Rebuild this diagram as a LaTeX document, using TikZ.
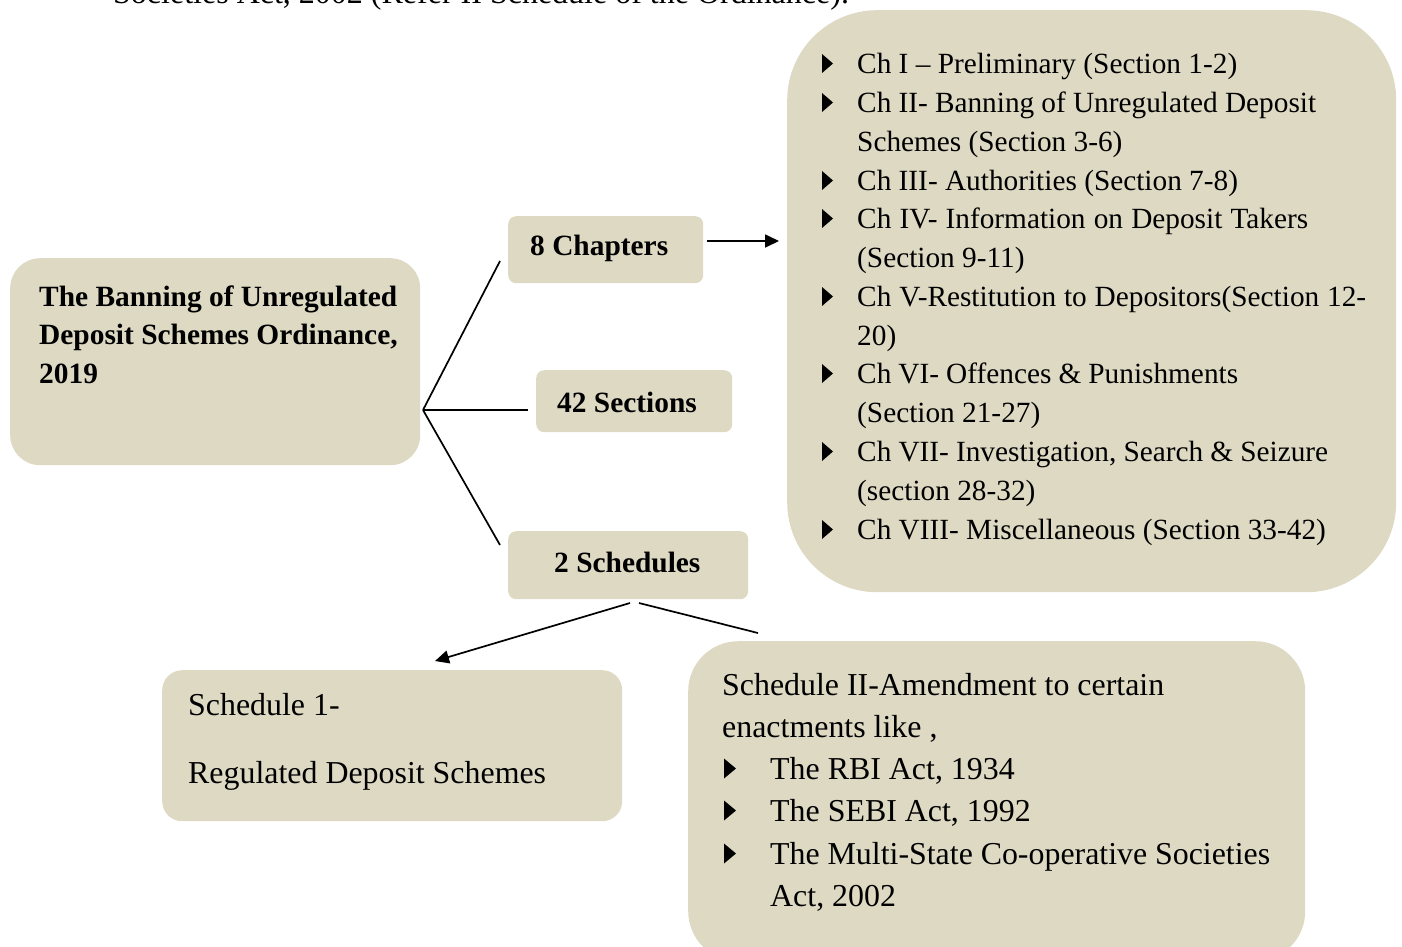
\documentclass[tikz,border=0pt]{standalone}
\usepackage{fontspec}
\setmainfont{Liberation Serif}
\usetikzlibrary{arrows.meta}
\definecolor{boxfill}{HTML}{DDD9C3}
\newcommand\jline[2]{\makebox[#1pt][s]{#2}}
\tikzset{
  box/.style={fill=boxfill, draw=none, inner sep=0pt, anchor=north west},
  txt/.style={anchor=base west, inner sep=0pt, font=\fontsize{29.3}{38.8}\selectfont},
  btxt/.style={anchor=base west, inner sep=0pt, font=\fontsize{29.4}{38.8}\selectfont\bfseries},
  ltxt/.style={anchor=base west, inner sep=0pt, font=\fontsize{31.9}{42}\selectfont},
  conn/.style={line width=1.7pt},
  arr/.style={conn, -{Triangle[length=14pt,width=13pt]}},
}
\begin{document}
\begin{tikzpicture}[x=1pt,y=-1pt]
\path[use as bounding box] (0,0) rectangle (1402,946);
\clip (0,0) rectangle (1402,946);

% partially visible text at top
\node[anchor=base west, inner sep=0pt, font=\fontsize{32}{38}\selectfont] (toptext) at (113,3) {Societies Act, 2002 (Refer II Schedule of the Ordinance).};

% boxes
\node[box, rounded corners=30pt, minimum width=410pt, minimum height=207pt] (main) at (10,258) {};
\node[box, rounded corners=8pt, minimum width=195pt, minimum height=67pt] (chap) at (508,216) {};
\node[box, rounded corners=8pt, minimum width=196pt, minimum height=62pt] (sect) at (536,370) {};
\node[box, rounded corners=8pt, minimum width=240pt, minimum height=68pt] (sched) at (508,531) {};
\node[box, rounded corners=90pt, minimum width=609pt, minimum height=582pt] (chlist) at (787,10) {};
\node[box, rounded corners=20pt, minimum width=460pt, minimum height=151pt] (s1) at (162,670) {};
\node[box, rounded corners=50pt, minimum width=617pt, minimum height=320pt] (s2) at (688,641) {};

% main box text
\node[btxt] (m1) at (39,306) {The Banning of Unregulated};
\node[btxt] (m2) at (39,344) {Deposit Schemes Ordinance,};
\node[btxt] (m3) at (39,383) {2019};

% middle boxes text
\node[btxt] (chapt) at (530,255) {8 Chapters};
\node[btxt] (sectt) at (557,412) {42 Sections};
\node[btxt] (schedt) at (554,572) {2 Schedules};

% chapter list
\foreach \yy in {73,112,190,228,306,383,461,539}
  \fill (822,\yy-19) -- (833,\yy-9.5) -- (822,\yy) -- cycle;
\node[txt] (l1) at (857,73) {Ch I -- Preliminary (Section 1-2)};
\node[txt] (l2) at (857,112) {\jline{459}{Ch II- Banning of Unregulated Deposit}};
\node[txt] (l3) at (857,151) {Schemes (Section 3-6)};
\node[txt] (l4) at (857,190) {Ch III- Authorities (Section 7-8)};
\node[txt] (l5) at (857,228) {\jline{451}{Ch IV- Information on Deposit Takers}};
\node[txt] (l6) at (857,267) {(Section 9-11)};
\node[txt] (l7) at (857,306) {\jline{509}{Ch V-Restitution to Depositors(Section 12-}};
\node[txt] (l8) at (857,345) {20)};
\node[txt] (l9) at (857,383) {\jline{381}{Ch VI- Offences \& Punishments}};
\node[txt] (l10) at (857,422) {(Section 21-27)};
\node[txt] (l11) at (857,461) {\jline{471}{Ch VII- Investigation, Search \& Seizure}};
\node[txt] (l12) at (857,500) {(section 28-32)};
\node[txt] (l13) at (857,539) {Ch VIII- Miscellaneous (Section 33-42)};

% schedule 1
\node[ltxt] (s1a) at (188,715) {Schedule 1-};
\node[ltxt] (s1b) at (188,783) {Regulated Deposit Schemes};

% schedule 2
\node[ltxt] (s2a) at (722,695) {\jline{442}{Schedule II-Amendment to certain}};
\node[ltxt] (s2b) at (722,737) {enactments like ,};
\foreach \yy in {779,821,864}
  \fill (724,\yy-20.5) -- (736,\yy-10.5) -- (724,\yy-0.5) -- cycle;
\node[ltxt] (s2c) at (770,779) {The RBI Act, 1934};
\node[ltxt] (s2d) at (770,821) {The SEBI Act, 1992};
\node[ltxt] (s2e) at (770,864) {\jline{500}{The Multi-State Co-operative Societies}};
\node[ltxt] (s2f) at (770,906) {Act, 2002};

% connectors
\coordinate (fan) at (423,410);
\coordinate (toChap) at (500,261);
\coordinate (toSect) at (528,410);
\coordinate (toSched) at (500,545);
\draw[conn] (fan) -- (toChap);
\draw[conn] (fan) -- (toSect);
\draw[conn] (fan) -- (toSched);

\coordinate (chapOut) at (707,241);
\coordinate (listIn) at (779,241);
\draw[arr] (chapOut) -- (listIn);

\coordinate (schedOutA) at (630,603);
\coordinate (s1In) at (435,661);
\draw[arr] (schedOutA) -- (s1In);
\coordinate (schedOutB) at (639,603);
\coordinate (s2In) at (758,633);
\draw[conn] (schedOutB) -- (s2In);
\end{tikzpicture}
\end{document}
